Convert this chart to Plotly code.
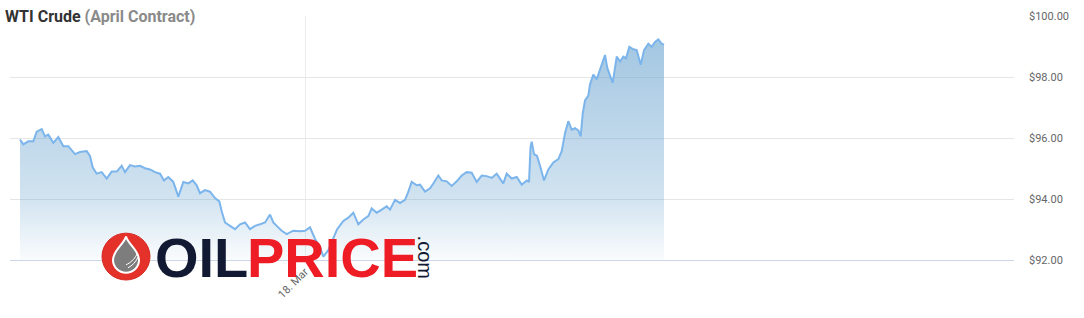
import plotly.graph_objects as go
import pandas as pd

# ---- data ----
start_day = "2014-03-16"
hours = [2.4, 2.93, 3.73, 4.53, 5.07, 5.87, 6.4, 6.93, 7.73, 8.53,
         9.33, 10.13, 11.2, 12.0, 13.07, 13.6, 14.03, 14.67, 15.47, 16.27,
         17.07, 17.87, 18.67, 19.2, 20.0, 20.8, 21.6, 22.4, 23.2, 24.0,
         24.8, 25.44, 26.13, 26.93, 27.73, 28.53, 29.33, 30.03, 30.67, 31.2,
         32.0, 32.8, 33.6, 34.29, 34.67, 35.2, 36.0, 36.8, 37.6, 38.4,
         39.2, 40.0, 40.8, 41.6, 42.4, 42.93, 43.47, 44.27, 45.07, 46.13,
         47.2, 48.0, 48.8, 49.6, 50.4, 50.93, 51.73, 52.48, 53.12, 54.13,
         54.93, 55.73, 56.53, 57.33, 58.13, 58.67, 59.47, 60.27, 61.07, 61.6,
         62.4, 63.2, 64.0, 64.53, 65.07, 65.87, 66.4, 67.2, 68.0, 68.53,
         69.33, 69.87, 70.67, 71.47, 72.27, 73.07, 73.87, 74.67, 75.47, 76.27,
         77.07, 77.87, 78.67, 79.2, 79.73, 80.27, 81.07, 81.87, 82.67, 83.47,
         83.84, 84.08, 84.27, 84.64, 85.12, 85.6, 86.24, 86.93, 87.73, 88.53,
         89.07, 89.6, 90.13, 90.67, 91.2, 91.73, 92.11, 92.43, 92.8, 93.33,
         93.6, 94.13, 94.67, 95.2, 95.47, 96.0, 96.37, 96.8, 97.23, 97.87,
         98.4, 98.93, 99.36, 99.89, 100.53, 101.07, 101.71, 102.24, 102.93, 103.47,
         104.0, 104.53, 105.07, 105.44]
prices = [95.95, 95.79, 95.89, 95.89, 96.21, 96.29, 96.05, 96.11, 95.84, 96.03,
          95.73, 95.73, 95.47, 95.54, 95.57, 95.41, 95.04, 94.83, 94.88, 94.67,
          94.90, 94.90, 95.09, 94.88, 95.11, 95.07, 95.09, 95.01, 94.97, 94.88,
          94.83, 94.61, 94.72, 94.56, 94.08, 94.56, 94.51, 94.61, 94.45, 94.19,
          94.29, 94.24, 94.03, 93.92, 93.60, 93.23, 93.12, 93.01, 93.17, 93.23,
          93.01, 93.12, 93.17, 93.23, 93.49, 93.23, 93.12, 92.96, 92.85, 92.96,
          92.94, 92.96, 93.07, 92.69, 92.43, 92.11, 92.32, 92.70, 93.00, 93.28,
          93.39, 93.55, 93.17, 93.33, 93.44, 93.69, 93.55, 93.65, 93.76, 93.65,
          93.97, 93.87, 93.97, 94.24, 94.56, 94.45, 94.47, 94.24, 94.35, 94.51,
          94.77, 94.61, 94.58, 94.43, 94.58, 94.77, 94.88, 94.86, 94.56, 94.77,
          94.75, 94.69, 94.83, 94.67, 94.51, 94.83, 94.67, 94.72, 94.47, 94.61,
          94.56, 95.70, 95.88, 95.47, 95.41, 95.09, 94.61, 94.97, 95.20, 95.31,
          95.57, 96.16, 96.55, 96.27, 96.32, 96.25, 96.05, 96.80, 97.23, 97.39,
          97.76, 98.08, 97.92, 98.24, 98.40, 98.72, 98.29, 98.08, 97.81, 98.67,
          98.51, 98.67, 98.61, 98.99, 98.91, 98.88, 98.40, 98.88, 99.09, 98.99,
          99.15, 99.23, 99.09, 99.06]
x_range = ["2014-03-16 00:48", "2014-03-22 17:26"]
x_tick_vals = ["2014-03-18"]
x_tick_text = ["18. Mar"]
y_ticks = [92, 94, 96, 98, 100]
y_tick_text = ["$92.00", "$94.00", "$96.00", "$98.00", "$100.00"]
title_main = "WTI Crude"
title_sub = "(April Contract)"

times = pd.Timestamp(start_day) + pd.to_timedelta(hours, unit="h")

W, H = 1084, 318
ML, MR, MT, MB = 10, 70, 10, 58
PW, PH = W - ML - MR, H - MT - MB


def px(x):
    return (x - ML) / PW


def py(y):
    return (H - MB - y) / PH


fig = go.Figure()
fig.add_trace(go.Scatter(
    x=times, y=prices, mode="lines",
    line=dict(color="#7cb5ec", width=2),
    fill="tozeroy",
    fillgradient=dict(
        type="vertical", start=92, stop=100,
        colorscale=[[0.0, "rgba(100,160,205,0.0)"],
                    [0.04, "rgba(100,160,205,0.05)"],
                    [0.28, "rgba(100,160,205,0.30)"],
                    [0.875, "rgba(100,160,205,0.58)"],
                    [1.0, "rgba(100,160,205,0.62)"]]),
    hoverinfo="skip", showlegend=False,
))

fig.update_layout(
    width=W, height=H,
    margin=dict(l=ML, r=MR, t=MT, b=MB),
    paper_bgcolor="white", plot_bgcolor="white",
    font=dict(family="Roboto, Arial, sans-serif", color="#666666"),
    title=dict(
        text=f"<b>{title_main}</b> <b><span style='color:#8a8a8a'>{title_sub}</span></b>",
        x=5 / W, xanchor="left", xref="container",
        y=1 - 16 / H, yanchor="middle", yref="container",
        font=dict(size=16, color="#333333", family="Roboto, Arial, sans-serif"),
    ),
    xaxis=dict(
        type="date", range=x_range,
        tickvals=x_tick_vals, ticktext=x_tick_text, tickangle=-45,
        tickfont=dict(size=11, color="#666666"),
        showgrid=True, gridcolor="#ececec", gridwidth=1,
        showline=True, linecolor="#ccd6eb", linewidth=1,
        zeroline=False, ticks="",
    ),
    yaxis=dict(
        range=[92, 100], side="right",
        tickvals=y_ticks, ticktext=y_tick_text,
        tickfont=dict(size=11, color="#666666"),
        showgrid=True, gridcolor="#e6e6e6", gridwidth=1,
        zeroline=False, showline=False, ticks="",
        ticklabelstandoff=14,
    ),
)

# ---- OILPRICE.com logo ----
cx, cy, r = 126, 256.5, 24
fig.add_shape(type="circle", xref="paper", yref="paper",
              x0=px(cx - r), x1=px(cx + r), y0=py(cy + r), y1=py(cy - r),
              fillcolor="#e4322b", line=dict(color="#d42a22", width=1), layer="above")


def P(x, y):
    return f"{px(x):.5f},{py(y):.5f}"


drop = (f"M {P(126, 236)} C {P(128, 244)} {P(139, 250)} {P(139, 260)} "
        f"C {P(139, 267.2)} {P(133.2, 273)} {P(126, 273)} "
        f"C {P(118.8, 273)} {P(113, 267.2)} {P(113, 260)} "
        f"C {P(113, 250)} {P(124, 244)} {P(126, 236)} Z")
fig.add_shape(type="path", xref="paper", yref="paper", path=drop,
              fillcolor="#7d7d7d", line=dict(color="white", width=2), layer="above")
fig.add_shape(type="path", xref="paper", yref="paper",
              path=f"M {P(128, 268)} C {P(132, 266)} {P(136, 262)} {P(138, 257)}",
              line=dict(color="white", width=1), layer="above")
fig.add_shape(type="path", xref="paper", yref="paper",
              path=f"M {P(126, 265)} C {P(130, 263)} {P(134, 260)} {P(137, 254)}",
              line=dict(color="white", width=1), layer="above")

fig.add_annotation(text="OIL", xref="paper", yref="paper", x=px(201), y=py(257.5),
                   xanchor="center", yanchor="middle", showarrow=False,
                   font=dict(family="Liberation Sans, Arial", size=56, color="#121a33", weight="bold"))
fig.add_annotation(text="PRICE", xref="paper", yref="paper", x=px(332), y=py(257.5),
                   xanchor="center", yanchor="middle", showarrow=False,
                   font=dict(family="Liberation Sans, Arial", size=56, color="#ee1c25", weight="bold"))
fig.add_annotation(text=".com", xref="paper", yref="paper", x=px(425), y=py(256.5),
                   xanchor="center", yanchor="middle", showarrow=False, textangle=90,
                   font=dict(family="Liberation Sans, Arial", size=20, color="#121a33"))

fig.write_html("out.html")
